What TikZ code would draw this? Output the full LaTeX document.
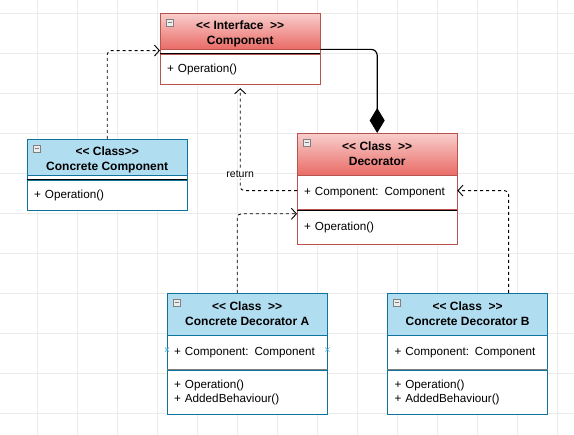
\documentclass[tikz,border=0pt]{standalone}
\usepackage{xcolor}
\usepackage{fontspec}
\setmainfont{Liberation Sans}[Ligatures=TeXOff]
\usepackage{tikz}
\usetikzlibrary{shapes,arrows.meta,positioning,calc}

\definecolor{redtop}{HTML}{F8CECC}
\definecolor{redbot}{HTML}{EA6B66}
\definecolor{redline}{HTML}{B85450}
\definecolor{bluefill}{HTML}{B1DDF0}
\definecolor{blueline}{HTML}{10739E}
\definecolor{gridgray}{HTML}{EBEBEB}
\definecolor{markblue}{HTML}{4FB3D9}

\begin{document}
\begin{tikzpicture}[x=1pt, y=-1pt, font=\fontsize{11.7}{14}\selectfont,
    classhead/.style={rectangle, draw, minimum width=160pt, inner sep=0pt, align=center,
        font=\fontsize{12}{15}\selectfont\bfseries, anchor=north west},
    lowtext/.style={text height=30pt, text depth=3pt},
    redhead/.style={classhead, draw=redline, top color=redtop, bottom color=redbot},
    bluehead/.style={classhead, draw=blueline, fill=bluefill},
    classbody/.style={rectangle, draw, fill=white, minimum width=160pt, text width=146pt,
        inner xsep=7pt, inner ysep=0pt, align=left},
    classgap/.style={rectangle, draw, fill=white, minimum width=160pt, minimum height=4pt, inner sep=0pt},
    minusbox/.style={rectangle, draw=gray, fill=gray!15, minimum size=7pt, inner sep=0pt,
        path picture={\draw ([xshift=1.5pt]path picture bounding box.west) -- ([xshift=-1.5pt]path picture bounding box.east);}},
    sepline/.style={line width=1.2pt},
    dep/.style={-{Straight Barb[length=5pt,width=11pt]}, dash pattern=on 3pt off 3pt, line width=0.9pt, rounded corners=4pt},
    compose/.style={{Diamond[length=25pt,width=15pt]}-, line width=1.2pt, rounded corners=6pt},
    crossmark/.style={cross out, draw=markblue, minimum size=3.5pt, inner sep=0pt, line width=0.6pt},
    gridline/.style={draw=gridgray, line width=0.6pt}]

        \useasboundingbox (0,0) rectangle (574,435);
        \fill[white] (0,0) rectangle (574,435);
        \foreach \gx in {37,77,...,557} \draw[gridline] (\gx,0) -- (\gx,435);
        \foreach \gy in {13,53,...,413} \draw[gridline] (0,\gy) -- (574,\gy);

        % Component (interface)
        \node (comphead) [redhead, lowtext, minimum height=36pt] at (160,13) {<<\ Interface\ \ >>\\Component};
        \node (compgap) [classgap, draw=redline, below=0pt of comphead] {};
        \node (compops) [classbody, draw=redline, minimum height=30pt, below=0pt of compgap] {+ Operation()};
        \draw[sepline] (compgap.south west) -- (compgap.south east);

        % Concrete Component
        \node (cchead) [bluehead, lowtext, minimum height=36pt] at (27,139) {<<\ Class>>\\Concrete Component};
        \node (ccgap) [classgap, draw=blueline, below=0pt of cchead] {};
        \node (ccops) [classbody, draw=blueline, minimum height=30pt, below=0pt of ccgap] {+ Operation()};
        \draw[sepline] (ccgap.south west) -- (ccgap.south east);

        % Decorator
        \node (dechead) [redhead, minimum height=42pt] at (297,133) {<<\ Class\ \ >>\\Decorator};
        \node (decattr) [classbody, draw=redline, minimum height=34pt, below=0pt of dechead] {+ Component: Component};
        \node (decops) [classbody, draw=redline, minimum height=34pt, below=0pt of decattr] {+ Operation()};
        \draw (decattr.south west) -- (decattr.south east);

        % Concrete Decorators
        \node (decAhead) [bluehead, minimum height=42pt] at (167,293) {<<\ Class\ \ >>\\Concrete Decorator A};
        \node (decAattr) [classbody, draw=blueline, minimum height=34pt, below=0pt of decAhead] {+ Component: Component};
        \node (decAops) [classbody, draw=blueline, minimum height=44pt, below=0pt of decAattr] {+ Operation()\\+ AddedBehaviour()};
        \draw[sepline, gray] (decAattr.south west) -- (decAattr.south east);

        \node (decBhead) [bluehead, minimum height=42pt, anchor=west, right=60pt of decAhead] {<<\ Class\ \ >>\\Concrete Decorator B};
        \node (decBattr) [classbody, draw=blueline, minimum height=34pt, below=0pt of decBhead] {+ Component: Component};
        \node (decBops) [classbody, draw=blueline, minimum height=44pt, below=0pt of decBattr] {+ Operation()\\+ AddedBehaviour()};
        \draw[sepline, gray] (decBattr.south west) -- (decBattr.south east);

        % collapse boxes
        \node (compminus) [minusbox] at ([shift={(9.5pt,-9.5pt)}]comphead.north west) {};
        \node (ccminus) [minusbox] at ([shift={(9.5pt,-9.5pt)}]cchead.north west) {};
        \node (decminus) [minusbox] at ([shift={(9.5pt,-9.5pt)}]dechead.north west) {};
        \node (decAminus) [minusbox] at ([shift={(9.5pt,-9.5pt)}]decAhead.north west) {};
        \node (decBminus) [minusbox] at ([shift={(9.5pt,-9.5pt)}]decBhead.north west) {};

        % selection marks
        \node (decAmarkL) [crossmark] at ([yshift=3pt]decAattr.west) {};
        \node (decAmarkR) [crossmark] at ([yshift=3pt]decAattr.east) {};

        % Arrows
        \draw[compose] (dechead.north) |- (comphead.south east);
        \draw[dep] (cchead.north) |- ([yshift=1pt]compgap.west);
        \draw[dep] ([yshift=2pt]decattr.west) -| node[pos=0.58, fill=white, inner sep=1pt, font=\fontsize{10.5}{12}\selectfont] (retlabel) {return} ([yshift=-4pt]compops.south);
        \draw[dep] ([xshift=-10pt]decAhead.north) |- ([yshift=-4pt]decops.north west);
        \draw[dep] ([xshift=41pt]decBhead.north) |- ([yshift=2pt]decattr.east);
    \end{tikzpicture}
\end{document}
